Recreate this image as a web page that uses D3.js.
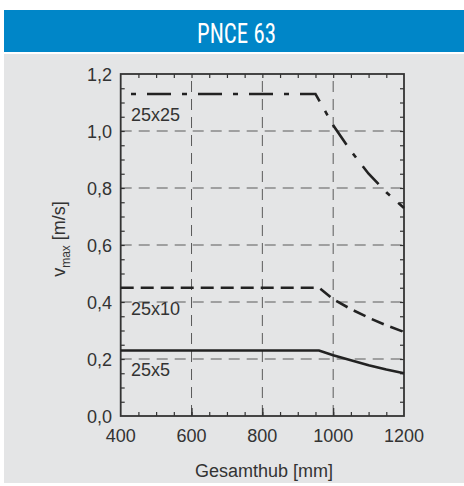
<!DOCTYPE html>
<html>
<head>
<meta charset="utf-8">
<script src="https://cdn.jsdelivr.net/npm/d3@7"></script>
<style>
  html, body { margin: 0; padding: 0; background: #ffffff; }
  svg { display: block; }
</style>
</head>
<body>
<script>
// Maximum linear speed vs. total stroke for the PNCE 63 ball-screw variants
const strokeMm = [400, 960, 1000, 1050, 1100, 1150, 1200];
const stroke25x25 = [400, 950, 1000, 1050, 1100, 1150, 1200];
const v25x25 = [1.13, 1.13, 1.02, 0.93, 0.85, 0.785, 0.73];
const v25x10 = [0.45, 0.45, 0.41, 0.375, 0.345, 0.318, 0.295];
const v25x5 = [0.23, 0.23, 0.213, 0.196, 0.178, 0.163, 0.15];
const seriesNames = ["25x25", "25x10", "25x5"];
const labelValues = [1.06, 0.38, 0.165];
const xTicks = [400, 600, 800, 1000, 1200];
const yTicks = [0, 0.2, 0.4, 0.6, 0.8, 1.0, 1.2];

const W = 464, H = 486;
const svg = d3.select("body").append("svg").attr("width", W).attr("height", H);

// header band and panel background
svg.append("rect").attr("x", 4).attr("y", 10).attr("width", W - 4).attr("height", 42).attr("fill", "#0086c8");
svg.append("rect").attr("x", 4).attr("y", 54).attr("width", W - 4).attr("height", 429).attr("fill", "#e4e5e6");
svg.append("text").attr("x", 236.5).attr("y", 43)
  .attr("text-anchor", "middle")
  .attr("font-family", "'Liberation Sans Narrow', 'Roboto Condensed', 'Liberation Sans', sans-serif")
  .attr("font-size", 27).attr("fill", "#ffffff")
  .attr("textLength", 79).attr("lengthAdjust", "spacingAndGlyphs")
  .text("PNCE 63");

const plotLeft = 120.7, plotRight = 404, plotTop = 74, plotBottom = 416;
const x = d3.scaleLinear().domain([400, 1200]).range([plotLeft, plotRight]);
const y = d3.scaleLinear().domain([0, 1.2]).range([plotBottom, plotTop]);

const ink = "#333333";
const font = "'Liberation Sans', Arial, sans-serif";

// dashed grid
const grid = svg.append("g").attr("stroke", "#5a5a5a").attr("stroke-width", 1).attr("stroke-dasharray", "11,7");
[600, 800, 1000].forEach(v => grid.append("line")
  .attr("x1", x(v)).attr("x2", x(v)).attr("y1", plotBottom).attr("y2", plotTop));
[0.2, 0.4, 0.6, 0.8, 1.0].forEach(v => grid.append("line")
  .attr("x1", plotLeft).attr("x2", plotRight).attr("y1", y(v)).attr("y2", y(v)));

// inward ticks on all four sides
const xMinor = d3.range(450, 1200, 50);
const yMinor = d3.range(1, 24).map(i => i * 0.05);
const axisStyle = g => g.call(s => s.select(".domain").remove())
  .call(s => s.selectAll("line").attr("stroke", ink).attr("stroke-width", 1.2))
  .call(s => s.selectAll("text").remove());
svg.append("g").attr("transform", `translate(0,${plotBottom})`)
  .call(d3.axisBottom(x).tickValues(xMinor).tickSize(-4)).call(axisStyle);
svg.append("g").attr("transform", `translate(0,${plotBottom})`)
  .call(d3.axisBottom(x).tickValues([600, 800, 1000]).tickSize(-8)).call(axisStyle);
svg.append("g").attr("transform", `translate(0,${plotTop})`)
  .call(d3.axisTop(x).tickValues(xMinor).tickSize(-4)).call(axisStyle);
svg.append("g").attr("transform", `translate(${plotLeft},0)`)
  .call(d3.axisLeft(y).tickValues(yMinor).tickSize(-4)).call(axisStyle);
svg.append("g").attr("transform", `translate(${plotRight},0)`)
  .call(d3.axisRight(y).tickValues(yMinor).tickSize(-4)).call(axisStyle);

// frame
svg.append("rect").attr("x", plotLeft).attr("y", plotTop)
  .attr("width", plotRight - plotLeft).attr("height", plotBottom - plotTop)
  .attr("fill", "none").attr("stroke", ink).attr("stroke-width", 1.8);

// tick labels
svg.append("g").selectAll("text").data(xTicks).join("text")
  .attr("x", d => x(d)).attr("y", 442).attr("text-anchor", "middle")
  .attr("font-family", font).attr("font-size", 18).attr("fill", ink)
  .text(d => d);
svg.append("g").selectAll("text").data(yTicks).join("text")
  .attr("x", 112).attr("y", d => y(d) + 6.5).attr("text-anchor", "end")
  .attr("font-family", font).attr("font-size", 18).attr("fill", ink)
  .text(d => d3.format(".1f")(d).replace(".", ","));

// axis titles
svg.append("text").attr("x", 264).attr("y", 477).attr("text-anchor", "middle")
  .attr("font-family", font).attr("font-size", 18).attr("fill", ink)
  .text("Gesamthub [mm]");
const yl = svg.append("text").attr("transform", "translate(65,239) rotate(-90)")
  .attr("text-anchor", "middle").attr("font-family", font).attr("font-size", 18).attr("fill", ink);
yl.append("tspan").text("v");
yl.append("tspan").attr("font-size", 12).attr("dy", 5).text("max");
yl.append("tspan").attr("dy", -5).text(" [m/s]");

// speed curves
const line = d3.line().x(d => x(d[0])).y(d => y(d[1]));
const curves = [
  { xs: stroke25x25, vs: v25x25, dash: "24,11,5,11", offset: 24.7, width: 2.6 },
  { xs: strokeMm, vs: v25x10, dash: "13,7", offset: 0, width: 2.6 },
  { xs: strokeMm, vs: v25x5, dash: null, offset: 0, width: 2.6 }
];
curves.forEach(c => {
  svg.append("path")
    .datum(c.xs.map((s, i) => [s, c.vs[i]]))
    .attr("d", line).attr("fill", "none").attr("stroke", "#222222")
    .attr("stroke-width", c.width)
    .attr("stroke-dasharray", c.dash)
    .attr("stroke-dashoffset", c.offset);
});

// curve labels
svg.append("g").selectAll("text").data(seriesNames).join("text")
  .attr("x", 131).attr("y", (d, i) => y(labelValues[i]) + 7)
  .attr("font-family", font).attr("font-size", 18).attr("fill", ink)
  .text(d => d);
</script>
</body>
</html>
